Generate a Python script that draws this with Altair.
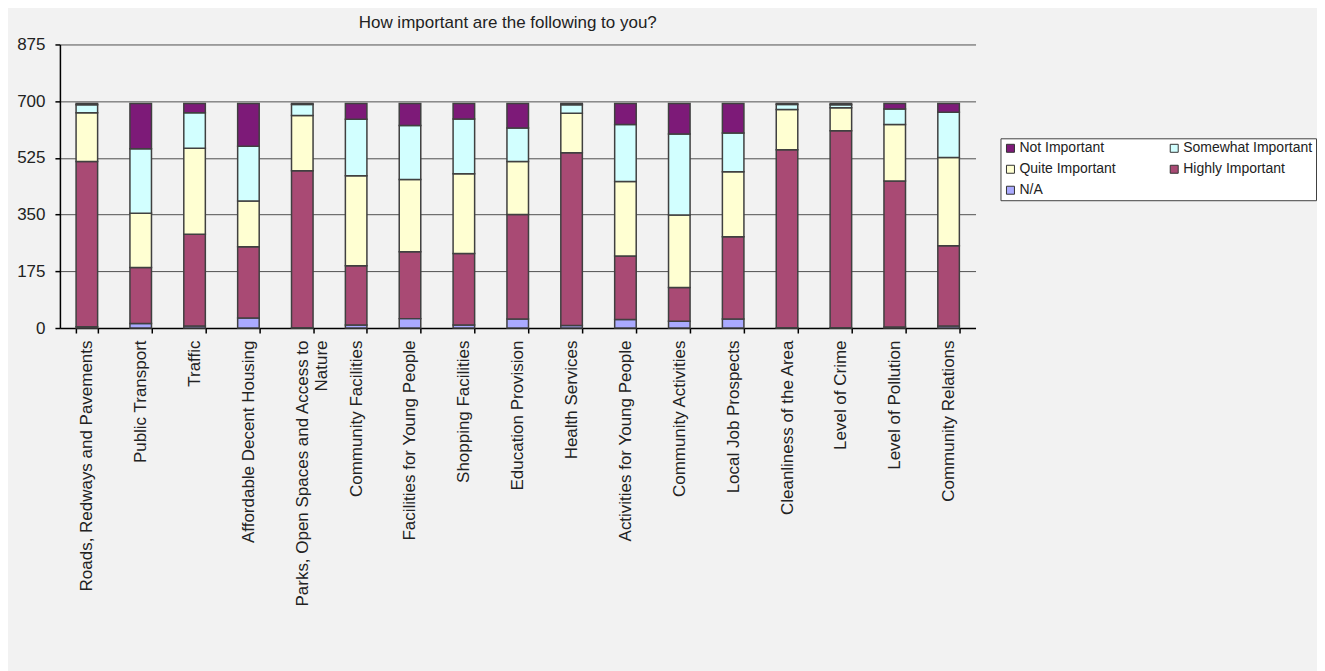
import altair as alt
import pandas as pd

categories = [
    "Roads, Redways and Pavements", "Public Transport", "Traffic",
    "Affordable Decent Housing", "Parks, Open Spaces and Access to Nature",
    "Community Facilities", "Facilities for Young People", "Shopping Facilities",
    "Education Provision", "Health Services", "Activities for Young People",
    "Community Activities", "Local Job Prospects", "Cleanliness of the Area",
    "Level of Crime", "Level of Pollution", "Community Relations",
]
na_vals = [4, 14, 6, 31, 1, 9, 29, 9, 28, 8, 26, 21, 28, 1, 1, 3, 6]
highly_vals = [510, 173, 283, 220, 484, 183, 206, 221, 322, 533, 196, 104, 254, 549, 608, 451, 248]
quite_vals = [150, 167, 266, 141, 171, 278, 223, 246, 164, 122, 230, 224, 200, 124, 71, 174, 272]
somewhat_vals = [25, 199, 109, 169, 34, 174, 167, 169, 103, 26, 176, 250, 120, 16, 9, 48, 140]
not_vals = [4, 140, 29, 132, 3, 49, 68, 48, 76, 4, 65, 94, 91, 3, 4, 17, 27]

series_names = ["N/A", "Highly Important", "Quite Important", "Somewhat Important", "Not Important"]
series_values = [na_vals, highly_vals, quite_vals, somewhat_vals, not_vals]
# legend is filled column by column: col 1 = Not / Quite / N/A, col 2 = Somewhat / Highly
legend_order = ["Not Important", "Quite Important", "N/A", "Somewhat Important", "Highly Important"]
colors = {
    "Not Important": "#7d1a78",
    "Somewhat Important": "#d2ffff",
    "Quite Important": "#ffffd2",
    "Highly Important": "#a94a74",
    "N/A": "#aaaaff",
}
y_ticks = [0, 175, 350, 525, 700, 875]

rows = []
for rank, (name, vals) in enumerate(zip(series_names, series_values)):
    for cat, v in zip(categories, vals):
        rows.append({"Category": cat, "Series": name, "Value": v, "rank": rank})
df = pd.DataFrame(rows)

FONT = "Liberation Sans"

chart = alt.Chart(df).mark_bar(stroke="#404040", strokeWidth=1.5).encode(
    x=alt.X(
        "Category:N",
        sort=categories,
        title=None,
        scale=alt.Scale(paddingInner=0.6, paddingOuter=0.3),
        axis=alt.Axis(
            labelAngle=270,
            labelAlign="right",
            labelBaseline="middle",
            labelFontSize=17,
            labelFont=FONT,
            labelColor="#222222",
            labelPadding=7,
            labelLimit=400,
            tickBand="extent",
            tickSize=5,
            tickColor="#000000",
            tickWidth=1.5,
            domainColor="#000000",
            domainWidth=1.5,
            labelExpr="datum.value == 'Parks, Open Spaces and Access to Nature' ? ['Parks, Open Spaces and Access to', 'Nature'] : datum.label",
        ),
    ),
    y=alt.Y(
        "Value:Q",
        stack="zero",
        title=None,
        scale=alt.Scale(domain=[0, 875], nice=False),
        axis=alt.Axis(
            values=y_ticks,
            labelFontSize=17,
            labelFont=FONT,
            labelColor="#222222",
            labelPadding=10,
            tickSize=5,
            tickColor="#000000",
            tickWidth=1.5,
            domainColor="#000000",
            domainWidth=1.5,
            grid=True,
            gridColor="#505050",
            gridWidth=1,
        ),
    ),
    color=alt.Color(
        "Series:N",
        scale=alt.Scale(domain=legend_order, range=[colors[s] for s in legend_order]),
        legend=alt.Legend(
            title=None,
            orient="none",
            legendX=942,
            legendY=94,
            columns=2,
            columnPadding=51,
            rowPadding=7,
            symbolType="square",
            symbolSize=64,
            symbolStrokeColor="#333333",
            symbolStrokeWidth=1,
            labelFontSize=14,
            labelFont=FONT,
            labelColor="#222222",
            labelOffset=2,
            fillColor="#ffffff",
            strokeColor="#404040",
            padding=3,
        ),
    ),
    order=alt.Order("rank:Q", sort="ascending"),
).properties(
    width=917,
    height=284,
    title=alt.TitleParams(
        "How important are the following to you?",
        fontSize=17,
        font=FONT,
        fontWeight="normal",
        color="#222222",
        anchor="middle",
        frame="group",
        dx=-10,
        offset=3,
    ),
    padding={"left": 8, "top": 6, "right": 0, "bottom": 70},
    background="#f2f2f2",
).configure_view(stroke=None)

chart.save("out.html", embed_options={"renderer": "svg", "actions": False})
